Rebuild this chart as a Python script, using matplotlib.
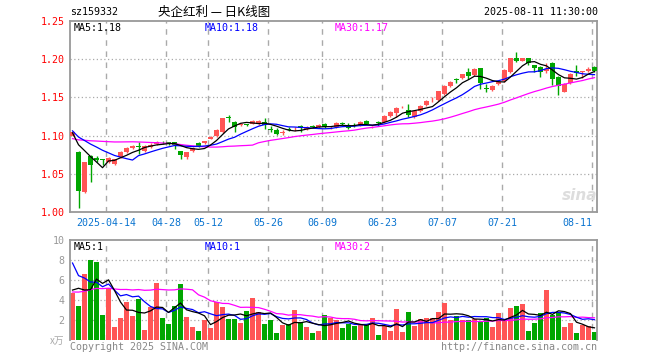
import matplotlib
matplotlib.use('Agg')
import matplotlib.pyplot as plt
import numpy as np
import pandas as pd

# ---------------- data ----------------
holidays = ['2025-05-01', '2025-05-02', '2025-05-05', '2025-06-02']
dates = [d for d in pd.bdate_range('2025-04-03', '2025-08-11') if d.strftime('%Y-%m-%d') not in holidays
         and d.strftime('%Y-%m-%d') != '2025-04-04']

opens = [1.100, 1.079, 1.026, 1.073, 1.071, 1.069, 1.065, 1.063, 1.072, 1.078,
         1.084, 1.086, 1.080, 1.085, 1.089, 1.092, 1.091, 1.0917, 1.0794, 1.0719,
         1.0794, 1.0904, 1.0904, 1.0961, 1.0991, 1.1048, 1.1240, 1.1180, 1.1136, 1.1150,
         1.1158, 1.1158, 1.1180, 1.1088, 1.1070, 1.1035, 1.1092, 1.1080, 1.1132, 1.1088,
         1.1128, 1.1110, 1.1158, 1.1095, 1.1114, 1.1165, 1.1145, 1.1138, 1.1136, 1.1197,
         1.1110, 1.1180, 1.1180, 1.1254, 1.1300, 1.1370, 1.1329, 1.1246, 1.1320, 1.1395,
         1.1460, 1.1461, 1.1539, 1.1649, 1.1735, 1.1750, 1.1833, 1.1794, 1.1882, 1.1627,
         1.1596, 1.1671, 1.1715, 1.1833, 1.2013, 1.1978, 1.2013, 1.1925, 1.1904, 1.1842,
         1.1956, 1.1772, 1.1575, 1.1693, 1.1842, 1.1830, 1.1842, 1.1904]
closes = [1.105, 1.027, 1.065, 1.062, 1.068, 1.068, 1.071, 1.069, 1.079, 1.084,
          1.087, 1.085, 1.087, 1.088, 1.092, 1.091, 1.090, 1.0873, 1.0750, 1.0781,
          1.0838, 1.0860, 1.0925, 1.0978, 1.1079, 1.1224, 1.1232, 1.1114, 1.1154, 1.1140,
          1.1189, 1.1189, 1.1145, 1.1070, 1.1026, 1.1048, 1.1070, 1.1092, 1.1101, 1.1114,
          1.1118, 1.1136, 1.1114, 1.1105, 1.1167, 1.1155, 1.1101, 1.1128, 1.1180, 1.1154,
          1.1118, 1.1167, 1.1254, 1.1311, 1.1355, 1.1380, 1.1268, 1.1320, 1.1390, 1.1452,
          1.1470, 1.1583, 1.1649, 1.1702, 1.1725, 1.1803, 1.1781, 1.1877, 1.1684, 1.1610,
          1.1649, 1.1706, 1.1860, 1.2013, 1.1978, 1.2013, 1.1947, 1.1890, 1.1838, 1.1877,
          1.1737, 1.1649, 1.1680, 1.1807, 1.1825, 1.1842, 1.1877, 1.1846]
highs = [1.106, 1.080, 1.066, 1.074, 1.073, 1.069, 1.072, 1.070, 1.080, 1.085,
         1.088, 1.092, 1.088, 1.090, 1.093, 1.093, 1.092, 1.092, 1.080, 1.079,
         1.085, 1.091, 1.093, 1.099, 1.109, 1.123, 1.1276, 1.119, 1.117, 1.1158,
         1.120, 1.120, 1.1232, 1.1123, 1.1101, 1.107, 1.111, 1.111, 1.114, 1.112,
         1.114, 1.115, 1.117, 1.112, 1.118, 1.118, 1.116, 1.116, 1.119, 1.121,
         1.113, 1.1197, 1.127, 1.132, 1.137, 1.139, 1.1408, 1.133, 1.140, 1.146,
         1.150, 1.159, 1.166, 1.172, 1.1759, 1.181, 1.1890, 1.189, 1.189, 1.1671,
         1.166, 1.172, 1.187, 1.202, 1.2088, 1.202, 1.2022, 1.193, 1.191, 1.1956,
         1.196, 1.178, 1.169, 1.182, 1.1921, 1.185, 1.1904, 1.191]
lows = [1.099, 1.005, 1.025, 1.039, 1.065, 1.061, 1.064, 1.061, 1.071, 1.077,
        1.082, 1.076, 1.079, 1.084, 1.088, 1.089, 1.088, 1.0825, 1.0693, 1.0693,
        1.079, 1.085, 1.089, 1.095, 1.098, 1.104, 1.1175, 1.1048, 1.113, 1.1123,
        1.115, 1.114, 1.1088, 1.1044, 1.1004, 1.101, 1.106, 1.106, 1.1048, 1.107,
        1.110, 1.110, 1.110, 1.108, 1.110, 1.114, 1.109, 1.111, 1.113, 1.115,
        1.110, 1.1123, 1.117, 1.124, 1.124, 1.136, 1.1241, 1.123, 1.131, 1.139,
        1.144, 1.145, 1.153, 1.163, 1.1693, 1.174, 1.1746, 1.178, 1.1605, 1.1570,
        1.158, 1.166, 1.170, 1.182, 1.1965, 1.197, 1.1925, 1.1833, 1.1772, 1.1825,
        1.1658, 1.1526, 1.1570, 1.168, 1.1781, 1.1759, 1.183, 1.183]
volumes = [4.67, 3.4, 6.6, 8.0, 7.8, 2.5, 5.17, 1.3, 2.2, 3.8,
           2.4, 4.1, 1.0, 3.27, 5.7, 2.2, 1.6, 3.4, 5.6, 2.3,
           1.3, 0.9, 2.0, 1.2, 3.8, 3.3, 2.1, 2.1, 1.7, 2.9,
           4.2, 2.8, 1.6, 2.0, 0.7, 1.5, 1.6, 3.0, 1.8, 1.3,
           0.7, 0.9, 2.5, 2.2, 2.0, 1.2, 1.6, 1.4, 1.6, 1.5,
           2.2, 0.5, 1.4, 0.9, 3.1, 0.8, 2.8, 1.4, 2.1, 2.2,
           2.2, 2.8, 3.7, 2.0, 2.4, 2.0, 2.0, 2.1, 1.9, 2.2,
           1.3, 2.7, 1.9, 3.2, 3.4, 3.6, 0.9, 1.7, 2.7, 5.0,
           2.5, 2.7, 1.3, 1.7, 0.7, 1.5, 1.4, 0.8]
# sessions before the visible window (only feed the moving averages)
prior_close = [1.078, 1.080, 1.082, 1.079, 1.081, 1.083, 1.080, 1.078, 1.081, 1.084,
               1.092, 1.096, 1.099, 1.101, 1.103, 1.104, 1.102, 1.105, 1.107, 1.106,
               1.108, 1.110, 1.109, 1.107, 1.110, 1.105, 1.103, 1.101, 1.104]
prior_vol = [3.6, 4.1, 3.4, 3.9, 3.2, 4.0, 3.5, 3.8, 3.6, 3.9,
             2.9, 3.2, 2.7, 3.1, 3.3, 2.8, 3.0, 2.6, 3.4, 3.0,
             16.0, 9.0, 12.0, 8.0, 7.0, 2.5, 7.5, 7.8, 2.5]

tick_dates = ['2025-04-14', '2025-04-28', '2025-05-12', '2025-05-26', '2025-06-09',
              '2025-06-23', '2025-07-07', '2025-07-21', '2025-08-11']
tick_labels = ['2025-04-14', '04-28', '05-12', '05-26', '06-09', '06-23', '07-07', '07-21', '08-11']
price_ticks = [1.00, 1.05, 1.10, 1.15, 1.20, 1.25]
vol_ticks = [2, 4, 6, 8, 10]
ma_price_text = ['MA5:1.18', 'MA10:1.18', 'MA30:1.17']
ma_vol_text = ['MA5:1', 'MA10:1', 'MA30:2']

# ---------------- figure ----------------
W, H = 660, 360
fig = plt.figure(figsize=(6.6, 3.6), dpi=100)
fig.patch.set_facecolor('white')

def fx(px):
    return px / W

def fy(py):
    return 1 - py / H

def T(x, y, s, **kw):
    fig.text(fx(x), fy(y), s, **kw)

MONO = 'DejaVu Sans Mono'
CJK = ['Noto Sans CJK SC', 'DejaVu Sans']
RED = '#ff5555'
GREEN = '#00a600'
GRID = '#aaaaaa'
FRAME = '#999999'

ax = fig.add_axes([fx(70), fy(212), fx(597) - fx(70), fy(21) - fy(212)])
axv = fig.add_axes([fx(70), fy(340), fx(597) - fx(70), fy(240) - fy(340)])

n = len(closes)
x = np.arange(n)
o = np.array(opens); c = np.array(closes); h = np.array(highs); l = np.array(lows)
v = np.array(volumes)
up = c >= o
cols = np.where(up, RED, GREEN)

date_str = [d.strftime('%Y-%m-%d') for d in dates]
tick_idx = np.array([date_str.index(t) for t in tick_dates])
grid_x = tick_idx - 0.42

xlim = (-0.42, n - 1 + 0.42)

# --- price panel ---
ax.set_xlim(*xlim)
ax.set_ylim(1.00, 1.25)
for gy in price_ticks[1:-1]:
    ax.axhline(gy, color=GRID, lw=0.9, ls=(0, (1, 2)), zorder=0)
for gx in grid_x:
    ax.axvline(gx, color=GRID, lw=1.0, ls=(0, (4, 4)), zorder=0)

ax.vlines(x, l, h, colors=cols, lw=1.0, zorder=2)
body_b = np.minimum(o, c)
body_h = np.maximum(np.abs(c - o), 0.0007)
ax.bar(x, body_h, bottom=body_b, width=0.8, color=cols, lw=0, zorder=3)

full_c = pd.Series(prior_close + closes)
k = len(prior_close)
ma5 = full_c.rolling(5).mean().values[k:]
ma10 = full_c.rolling(10).mean().values[k:]
ma30 = full_c.rolling(30).mean().values[k:]
ax.plot(x, ma30, color='#ff00ff', lw=0.9, zorder=4)
ax.plot(x, ma10, color='#0000ff', lw=0.9, zorder=4)
ax.plot(x, ma5, color='black', lw=0.9, zorder=4)

ax.set_yticks(price_ticks)
ax.set_yticklabels(['%.2f' % t for t in price_ticks], color='#ff0000', fontsize=7.2, family=MONO)
ax.set_xticks(grid_x)
ax.set_xticklabels(tick_labels, color='#0a74d0', fontsize=7.2, family=MONO)
ax.tick_params(axis='both', length=0, pad=4)
ax.tick_params(axis='x', pad=4)
labs = ax.get_xticklabels()
labs[-1].set_horizontalalignment('right')
labs[-1].set_x(grid_x[-1] + 0.2)
for s in ax.spines.values():
    s.set_color(FRAME)
    s.set_linewidth(1.3)

# --- volume panel ---
axv.set_xlim(*xlim)
axv.set_ylim(0, 10)
for gy in vol_ticks[:-1]:
    axv.axhline(gy, color=GRID, lw=0.9, ls=(0, (1, 2)), zorder=0)
for gx in grid_x:
    axv.axvline(gx, color=GRID, lw=1.0, ls=(0, (4, 4)), zorder=0)
axv.bar(x, v, width=0.8, color=cols, lw=0, zorder=2)
full_v = pd.Series(prior_vol + volumes)
kv = len(prior_vol)
axv.plot(x, full_v.rolling(30).mean().values[kv:], color='#ff00ff', lw=0.9, zorder=4)
axv.plot(x, full_v.rolling(10).mean().values[kv:], color='#0000ff', lw=0.9, zorder=4)
axv.plot(x, full_v.rolling(5).mean().values[kv:], color='black', lw=0.9, zorder=4)
axv.set_yticks(vol_ticks)
axv.set_yticklabels([str(t) for t in vol_ticks], color='#999999', fontsize=7.2, family=MONO)
axv.set_xticks([])
axv.tick_params(axis='both', length=0, pad=4)
for name, s in axv.spines.items():
    s.set_color(FRAME)
    s.set_linewidth(1.3)
axv.spines['bottom'].set_visible(False)

# --- texts ---
T(70, 12, 'sz159332', fontsize=7.2, family=MONO, ha='left', va='center')
T(214, 12, '央企红利 — 日K线图', fontsize=9, family=CJK, ha='center', va='center')
T(598, 12, '2025-08-11 11:30:00', fontsize=7.2, family=MONO, ha='right', va='center')

T(74, 28, ma_price_text[0], fontsize=7.2, family=MONO, color='black', ha='left', va='center')
T(205, 28, ma_price_text[1], fontsize=7.2, family=MONO, color='#0000ff', ha='left', va='center')
T(335, 28, ma_price_text[2], fontsize=7.2, family=MONO, color='#ff00ff', ha='left', va='center')

T(74, 247, ma_vol_text[0], fontsize=7.2, family=MONO, color='black', ha='left', va='center')
T(205, 247, ma_vol_text[1], fontsize=7.2, family=MONO, color='#0000ff', ha='left', va='center')
T(335, 247, ma_vol_text[2], fontsize=7.2, family=MONO, color='#ff00ff', ha='left', va='center')

T(64, 341, 'x万', fontsize=7, family=CJK, color='#aaaaaa', ha='right', va='center')
T(70, 347, 'Copyright 2025 SINA.COM', fontsize=7.2, family=MONO, color='#888888', ha='left', va='center')
T(597, 347, 'http://finance.sina.com.cn', fontsize=7.2, family=MONO, color='#888888', ha='right', va='center')
T(580, 196, 'sina', fontsize=11, family='DejaVu Sans', style='italic', weight='bold',
  color='#dddddd', ha='center', va='center')

fig.savefig('out.png', dpi=100, facecolor='white')
